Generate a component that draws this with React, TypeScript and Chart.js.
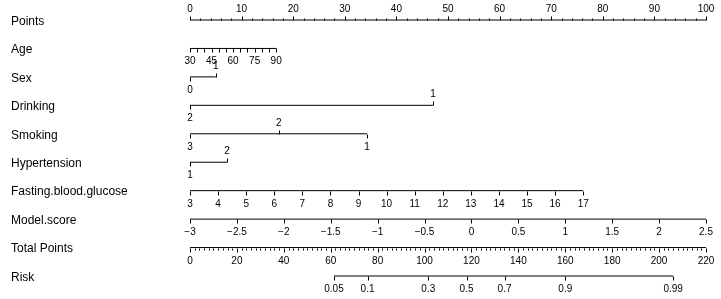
import { useEffect, useRef } from "react";
import { Chart, registerables } from "chart.js";

Chart.register(...registerables);

// ---- data ----
const rowNames = [
  "Points",
  "Age",
  "Sex",
  "Drinking",
  "Smoking",
  "Hypertension",
  "Fasting.blood.glucose",
  "Model.score",
  "Total Points",
  "Risk",
];

// Points axis (0..100)
const pointsLabels = [0, 10, 20, 30, 40, 50, 60, 70, 80, 90, 100];
const pointsMinorStep = 2;

// Age: 30 -> 0 pts, 90 -> 16.7 pts
const ageRange = [30, 90];
const agePointsRange = [0, 16.7];
const ageTickStep = 5;
const ageLabels = [30, 45, 60, 75, 90];

// Categorical predictors: level labels, their points, label above the line?
const sexLevels = ["0", "1"];
const sexPoints = [0, 5.0];
const sexAbove = [false, true];

const drinkingLevels = ["2", "1"];
const drinkingPoints = [0, 47.1];
const drinkingAbove = [false, true];

const smokingLevels = ["3", "2", "1"];
const smokingPoints = [0, 17.2, 34.3];
const smokingAbove = [false, true, false];

const hypertensionLevels = ["1", "2"];
const hypertensionPoints = [0, 7.2];
const hypertensionAbove = [false, true];

// Fasting blood glucose: 3 -> 0 pts, 17 -> 76.2 pts
const fbgRange = [3, 17];
const fbgPointsRange = [0, 76.2];
const fbgLabels = [3, 4, 5, 6, 7, 8, 9, 10, 11, 12, 13, 14, 15, 16, 17];

// Model score: -3 -> 0 pts, 2.5 -> 100 pts
const modelRange = [-3, 2.5];
const modelPointsRange = [0, 100];
const modelLabels = [-3, -2.5, -2, -1.5, -1, -0.5, 0, 0.5, 1, 1.5, 2, 2.5];

// Total points: 0..220 spans the 0..100 points axis
const totalRange = [0, 220];
const totalLabels = [0, 20, 40, 60, 80, 100, 120, 140, 160, 180, 200, 220];
const totalMinorStep = 2;

// Risk: labels and the total points where they sit
const riskLabels = ["0.05", "0.1", "0.3", "0.5", "0.7", "0.9", "0.99"];
const riskTotalPoints = [61.4, 75.7, 101.6, 117.9, 134.1, 160.0, 206.0];

// ---- helpers ----
type TickDef = { pts: number; label?: string; above: boolean; len: number };
type RowDef = { row: number; start: number; end: number; ticks: TickDef[] };

const fmt = (v: number) => (v < 0 ? "\u2212" + String(-v) : String(v));

function linMap(v: number, r: number[], p: number[]) {
  return p[0] + ((v - r[0]) / (r[1] - r[0])) * (p[1] - p[0]);
}

function buildRows(): RowDef[] {
  const rows: RowDef[] = [];
  // Points
  const pt: TickDef[] = [];
  for (let v = 0; v <= 100 + 1e-9; v += pointsMinorStep) {
    const major = pointsLabels.includes(Math.round(v));
    pt.push({ pts: v, above: true, len: major ? 4 : 2, label: major ? String(Math.round(v)) : undefined });
  }
  rows.push({ row: 0, start: 0, end: 100, ticks: pt });
  // Age
  const at: TickDef[] = [];
  for (let a = ageRange[0]; a <= ageRange[1]; a += ageTickStep) {
    at.push({
      pts: linMap(a, ageRange, agePointsRange),
      above: false,
      len: 4,
      label: ageLabels.includes(a) ? String(a) : undefined,
    });
  }
  rows.push({ row: 1, start: agePointsRange[0], end: agePointsRange[1], ticks: at });
  // Categorical
  const cats: [number, string[], number[], boolean[]][] = [
    [2, sexLevels, sexPoints, sexAbove],
    [3, drinkingLevels, drinkingPoints, drinkingAbove],
    [4, smokingLevels, smokingPoints, smokingAbove],
    [5, hypertensionLevels, hypertensionPoints, hypertensionAbove],
  ];
  for (const [row, lv, pts, ab] of cats) {
    rows.push({
      row,
      start: Math.min(...pts),
      end: Math.max(...pts),
      ticks: lv.map((l, i) => ({ pts: pts[i], label: l, above: ab[i], len: 4 })),
    });
  }
  // FBG
  rows.push({
    row: 6,
    start: fbgPointsRange[0],
    end: fbgPointsRange[1],
    ticks: fbgLabels.map((v) => ({ pts: linMap(v, fbgRange, fbgPointsRange), label: String(v), above: false, len: 4 })),
  });
  // Model score
  rows.push({
    row: 7,
    start: modelPointsRange[0],
    end: modelPointsRange[1],
    ticks: modelLabels.map((v) => ({ pts: linMap(v, modelRange, modelPointsRange), label: fmt(v), above: false, len: 4 })),
  });
  // Total points
  const tt: TickDef[] = [];
  for (let v = totalRange[0]; v <= totalRange[1] + 1e-9; v += totalMinorStep) {
    const major = totalLabels.includes(Math.round(v));
    tt.push({
      pts: linMap(v, totalRange, [0, 100]),
      above: false,
      len: major ? 4 : 2,
      label: major ? String(Math.round(v)) : undefined,
    });
  }
  rows.push({ row: 8, start: 0, end: 100, ticks: tt });
  // Risk
  const rp = riskTotalPoints.map((v) => linMap(v, totalRange, [0, 100]));
  rows.push({
    row: 9,
    start: rp[0],
    end: rp[rp.length - 1],
    ticks: rp.map((p, i) => ({ pts: p, label: riskLabels[i], above: false, len: 4 })),
  });
  return rows;
}

const FONT = "'Liberation Sans', Arial, sans-serif";

export default function App() {
  const ref = useRef<HTMLCanvasElement | null>(null);

  useEffect(() => {
    if (!ref.current) return;
    const rows = buildRows();

    const nomoPlugin = {
      id: "nomo",
      afterDatasetsDraw(chart: any) {
        const ctx = chart.ctx as CanvasRenderingContext2D;
        const xs = chart.scales.x;
        const ys = chart.scales.y;
        ctx.save();
        // row names
        ctx.fillStyle = "#000";
        ctx.font = `12px ${FONT}`;
        ctx.textAlign = "left";
        ctx.textBaseline = "middle";
        rowNames.forEach((n, i) => {
          ctx.fillText(n, 11, ys.getPixelForValue(i) + 1.5);
        });
        // ticks & labels
        ctx.strokeStyle = "#000";
        ctx.lineWidth = 1;
        ctx.font = `10px ${FONT}`;
        ctx.textAlign = "center";
        for (const r of rows) {
          const y = Math.round(ys.getPixelForValue(r.row)) + 0.5;
          for (const t of r.ticks) {
            const x = Math.round(xs.getPixelForValue(t.pts)) + 0.5;
            ctx.beginPath();
            ctx.moveTo(x, y);
            ctx.lineTo(x, t.above ? y - t.len : y + t.len);
            ctx.stroke();
            if (t.label) {
              ctx.fillText(t.label, xs.getPixelForValue(t.pts), t.above ? y - 11 : y + 13);
            }
          }
        }
        ctx.restore();
      },
    };

    const datasets = rows.map((r) => ({
      type: "line" as const,
      data: [
        { x: r.start, y: r.row },
        { x: r.end, y: r.row },
      ],
      borderColor: "#000",
      borderWidth: 1,
      pointRadius: 0,
      showLine: true,
      clip: false as any,
      fill: false,
    }));

    const chart = new Chart(ref.current, {
      type: "scatter",
      data: { datasets: datasets as any },
      options: {
        animation: false,
        responsive: false,
        maintainAspectRatio: false,
        layout: { padding: { left: 190, right: 15, top: 20, bottom: 23 } },
        plugins: { legend: { display: false }, tooltip: { enabled: false } },
        scales: {
          x: { type: "linear", min: 0, max: 100, display: false },
          y: { type: "linear", min: 0, max: 9, reverse: true, display: false },
        },
        events: [],
      },
      plugins: [nomoPlugin],
    });
    return () => chart.destroy();
  }, []);

  return (
    <div style={{ position: "fixed", left: 0, top: 0, width: 721, height: 299, background: "#fff" }}>
      <canvas ref={ref} width={721} height={299} style={{ width: 721, height: 299, display: "block" }} />
    </div>
  );
}
